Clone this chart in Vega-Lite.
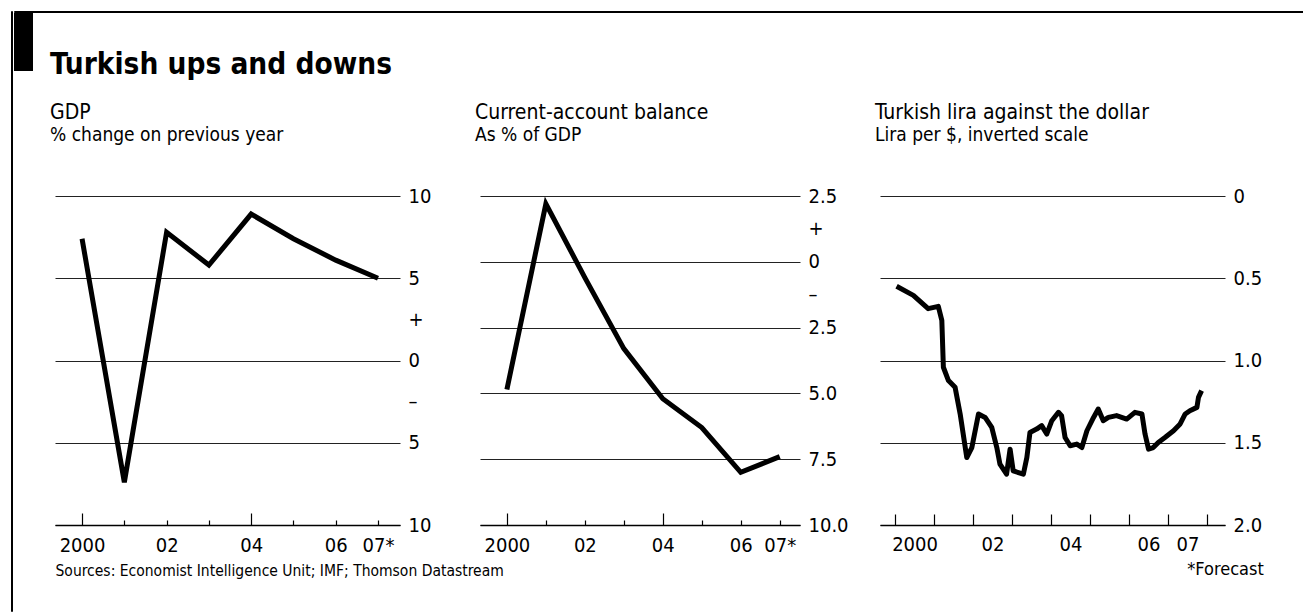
{
  "$schema": "https://vega.github.io/schema/vega-lite/v6.json",
  "padding": {"left": 10, "top": 10, "right": 0, "bottom": 0},
  "background": "white",
  "config": {
    "font": "DejaVu Sans Condensed, DejaVu Sans",
    "view": {"stroke": null},
    "axis": {"labelFont": "DejaVu Sans Condensed, DejaVu Sans", "titleFont": "DejaVu Sans Condensed, DejaVu Sans", "labelColor": "black", "titleColor": "black"},
    "title": {"font": "DejaVu Sans Condensed, DejaVu Sans", "subtitleFont": "DejaVu Sans Condensed, DejaVu Sans", "color": "black", "subtitleColor": "black", "anchor": "start", "frame": "group", "fontWeight": "normal", "fontSize": 21, "subtitleFontSize": 19, "subtitlePadding": 3, "offset": 41, "dx": -5}
  },
  "spacing": 0,
  "hconcat": [
    {
      "width": 1, "height": 600,
      "view": {"stroke": "black", "strokeWidth": 1},
      "data": {"values": []},
      "mark": "point"
    },
    {
      "spacing": 0,
      "vconcat": [
        {
          "width": 1290, "height": 1,
          "view": {"stroke": "black", "strokeWidth": 1},
          "data": {"values": []},
          "mark": "point"
        },
        {
          "spacing": 17,
          "hconcat": [
            {
              "width": 19, "height": 58,
              "view": {"fill": "black", "stroke": null},
              "data": {"values": []},
              "mark": "point"
            },
            {
              "spacing": 22,
              "vconcat": [
                {
                  "width": 400, "height": 38,
                  "title": {"text": "Turkish ups and downs", "orient": "bottom", "fontSize": 29.5, "fontWeight": "bold", "offset": 0, "dx": -5},
                  "data": {"values": []},
                  "mark": "point"
                },
                {
                  "spacing": 80,
                  "bounds": "flush",
                  "hconcat": [
                    {
                      "width": 345, "height": 329,
                      "title": {"text": "GDP", "subtitle": "% change on previous year"},
                      "data": {"values": [
                        {"year": 2000, "gdp": 7.4},
                        {"year": 2001, "gdp": -7.4},
                        {"year": 2002, "gdp": 7.8},
                        {"year": 2003, "gdp": 5.8},
                        {"year": 2004, "gdp": 8.9},
                        {"year": 2005, "gdp": 7.4},
                        {"year": 2006, "gdp": 6.1},
                        {"year": 2007, "gdp": 5.0}
                      ]},
                      "mark": {"type": "line", "stroke": "black", "strokeWidth": 5, "strokeJoin": "miter", "clip": false},
                      "encoding": {
                        "x": {"field": "year", "type": "quantitative",
                          "scale": {"domain": [1999.36, 2007.52], "nice": false, "zero": false},
                          "axis": {
                            "values": [2000, 2001, 2002, 2003, 2004, 2005, 2006, 2007],
                            "labelExpr": "datum.value == 2000 ? '2000' : datum.value == 2002 ? '02' : datum.value == 2004 ? '04' : datum.value == 2006 ? '06' : datum.value == 2007 ? '07*' : ''",
                            "grid": false, "domainColor": "black", "domainWidth": 1.5,
                            "tickColor": "black", "tickWidth": 1.2,
                            "tickSize": {"condition": {"test": "datum.value == 2000 || datum.value == 2004", "value": -12}, "value": -5},
                            "labelPadding": {"condition": {"test": "datum.value == 2000 || datum.value == 2004", "value": 22}, "value": 15},
                            "labelFontSize": 20, "labelOverlap": false, "labelFlush": false,
                            "title": "Sources: Economist Intelligence Unit; IMF; Thomson Datastream",
                            "titleAnchor": "start", "titleFontSize": 15.5, "titleFontWeight": "normal", "titlePadding": 8
                          }
                        },
                        "y": {"field": "gdp", "type": "quantitative",
                          "scale": {"domain": [-10, 10], "nice": false},
                          "axis": {
                            "orient": "right", "values": [-10, -5, -2.5, 0, 2.5, 5, 10],
                            "labelExpr": "datum.value == 2.5 ? '+' : datum.value == -2.5 ? '–' : format(abs(datum.value), 'd')",
                            "domain": false, "ticks": false, "grid": true, "gridColor": "#222", "gridWidth": 1,
                            "gridOpacity": {"condition": {"test": "abs(datum.value) == 2.5", "value": 0}, "value": 1},
                            "labelPadding": 8, "labelFontSize": 20, "labelOverlap": false, "labelFlush": false, "title": null
                          }
                        }
                      }
                    },
                    {
                      "width": 320, "height": 329,
                      "title": {"text": "Current-account balance", "subtitle": "As % of GDP"},
                      "data": {"values": [
                        {"year": 2000, "balance": -4.85},
                        {"year": 2001, "balance": 2.2},
                        {"year": 2002, "balance": -0.6},
                        {"year": 2003, "balance": -3.3},
                        {"year": 2004, "balance": -5.2},
                        {"year": 2005, "balance": -6.3},
                        {"year": 2006, "balance": -8.0},
                        {"year": 2007, "balance": -7.4}
                      ]},
                      "mark": {"type": "line", "stroke": "black", "strokeWidth": 5, "strokeJoin": "miter", "clip": false},
                      "encoding": {
                        "x": {"field": "year", "type": "quantitative",
                          "scale": {"domain": [1999.31, 2007.52], "nice": false, "zero": false},
                          "axis": {
                            "values": [2000, 2001, 2002, 2003, 2004, 2005, 2006, 2007],
                            "labelExpr": "datum.value == 2000 ? '2000' : datum.value == 2002 ? '02' : datum.value == 2004 ? '04' : datum.value == 2006 ? '06' : datum.value == 2007 ? '07*' : ''",
                            "grid": false, "domainColor": "black", "domainWidth": 1.5,
                            "tickColor": "black", "tickWidth": 1.2,
                            "tickSize": {"condition": {"test": "datum.value == 2000 || datum.value == 2004", "value": -12}, "value": -5},
                            "labelPadding": {"condition": {"test": "datum.value == 2000 || datum.value == 2004", "value": 22}, "value": 15},
                            "labelFontSize": 20, "labelOverlap": false, "labelFlush": false,
                            "title": null
                          }
                        },
                        "y": {"field": "balance", "type": "quantitative",
                          "scale": {"domain": [-10, 2.5], "nice": false, "zero": false},
                          "axis": {
                            "orient": "right", "values": [-10, -7.5, -5, -2.5, -1.25, 0, 1.25, 2.5],
                            "labelExpr": "datum.value == 1.25 ? '+' : datum.value == -1.25 ? '–' : datum.value == 0 ? '0' : format(abs(datum.value), '.1f')",
                            "domain": false, "ticks": false, "grid": true, "gridColor": "#222", "gridWidth": 1,
                            "gridOpacity": {"condition": {"test": "abs(datum.value) == 1.25", "value": 0}, "value": 1},
                            "labelPadding": 8, "labelFontSize": 20, "labelOverlap": false, "labelFlush": false, "title": null
                          }
                        }
                      }
                    },
                    {
                      "width": 345, "height": 329,
                      "title": {"text": "Turkish lira against the dollar", "subtitle": "Lira per $, inverted scale"},
                      "data": {"values": [
                        {"t": 2000.04, "lira": 0.549},
                        {"t": 2000.47, "lira": 0.604},
                        {"t": 2000.85, "lira": 0.685},
                        {"t": 2001.11, "lira": 0.671},
                        {"t": 2001.2, "lira": 0.756},
                        {"t": 2001.24, "lira": 1.041},
                        {"t": 2001.37, "lira": 1.122},
                        {"t": 2001.54, "lira": 1.163},
                        {"t": 2001.67, "lira": 1.325},
                        {"t": 2001.84, "lira": 1.59},
                        {"t": 2001.97, "lira": 1.529},
                        {"t": 2002.14, "lira": 1.325},
                        {"t": 2002.31, "lira": 1.346},
                        {"t": 2002.48, "lira": 1.407},
                        {"t": 2002.61, "lira": 1.529},
                        {"t": 2002.69, "lira": 1.63},
                        {"t": 2002.86, "lira": 1.691},
                        {"t": 2002.95, "lira": 1.539},
                        {"t": 2003.03, "lira": 1.671},
                        {"t": 2003.29, "lira": 1.691},
                        {"t": 2003.38, "lira": 1.59},
                        {"t": 2003.46, "lira": 1.437},
                        {"t": 2003.63, "lira": 1.417},
                        {"t": 2003.76, "lira": 1.396},
                        {"t": 2003.89, "lira": 1.447},
                        {"t": 2004.02, "lira": 1.366},
                        {"t": 2004.19, "lira": 1.315},
                        {"t": 2004.27, "lira": 1.335},
                        {"t": 2004.36, "lira": 1.468},
                        {"t": 2004.49, "lira": 1.518},
                        {"t": 2004.66, "lira": 1.508},
                        {"t": 2004.79, "lira": 1.529},
                        {"t": 2004.92, "lira": 1.427},
                        {"t": 2005.09, "lira": 1.346},
                        {"t": 2005.21, "lira": 1.295},
                        {"t": 2005.34, "lira": 1.366},
                        {"t": 2005.47, "lira": 1.346},
                        {"t": 2005.68, "lira": 1.335},
                        {"t": 2005.94, "lira": 1.356},
                        {"t": 2006.15, "lira": 1.315},
                        {"t": 2006.33, "lira": 1.325},
                        {"t": 2006.41, "lira": 1.447},
                        {"t": 2006.5, "lira": 1.539},
                        {"t": 2006.62, "lira": 1.529},
                        {"t": 2006.75, "lira": 1.498},
                        {"t": 2006.92, "lira": 1.468},
                        {"t": 2007.14, "lira": 1.427},
                        {"t": 2007.31, "lira": 1.386},
                        {"t": 2007.44, "lira": 1.325},
                        {"t": 2007.56, "lira": 1.305},
                        {"t": 2007.74, "lira": 1.285},
                        {"t": 2007.78, "lira": 1.224},
                        {"t": 2007.86, "lira": 1.183}
                      ]},
                      "mark": {"type": "line", "stroke": "black", "strokeWidth": 5, "strokeJoin": "round", "clip": false},
                      "encoding": {
                        "x": {"field": "t", "type": "quantitative",
                          "scale": {"domain": [1999.615, 2008.46], "nice": false, "zero": false},
                          "axis": {
                            "values": [2000, 2001, 2002, 2003, 2004, 2005, 2006, 2007, 2008],
                            "labelExpr": "datum.value == 2000 ? '2000' : datum.value == 2002 ? '02' : datum.value == 2004 ? '04' : datum.value == 2006 ? '06' : datum.value == 2007 ? '07' : ''",
                            "grid": false, "domainColor": "black", "domainWidth": 1.5,
                            "tickColor": "black", "tickWidth": 1.2, "tickSize": -11, "labelPadding": 20, "labelOffset": 19.5,
                            "labelFontSize": 20, "labelOverlap": false, "labelFlush": false,
                            "title": "*Forecast", "titleAnchor": "end", "titleAlign": "center",
                            "titleFontSize": 18, "titleFontWeight": "normal", "titlePadding": 6
                          }
                        },
                        "y": {"field": "lira", "type": "quantitative",
                          "scale": {"domain": [0, 2], "reverse": true, "nice": false, "zero": false},
                          "axis": {
                            "orient": "right", "values": [0, 0.5, 1, 1.5, 2],
                            "labelExpr": "datum.value == 0 ? '0' : format(datum.value, '.1f')",
                            "domain": false, "ticks": false, "grid": true, "gridColor": "#222", "gridWidth": 1,
                            "labelPadding": 8, "labelFontSize": 20, "labelOverlap": false, "labelFlush": false, "title": null
                          }
                        }
                      }
                    }
                  ]
                }
              ]
            }
          ]
        }
      ]
    }
  ]
}
